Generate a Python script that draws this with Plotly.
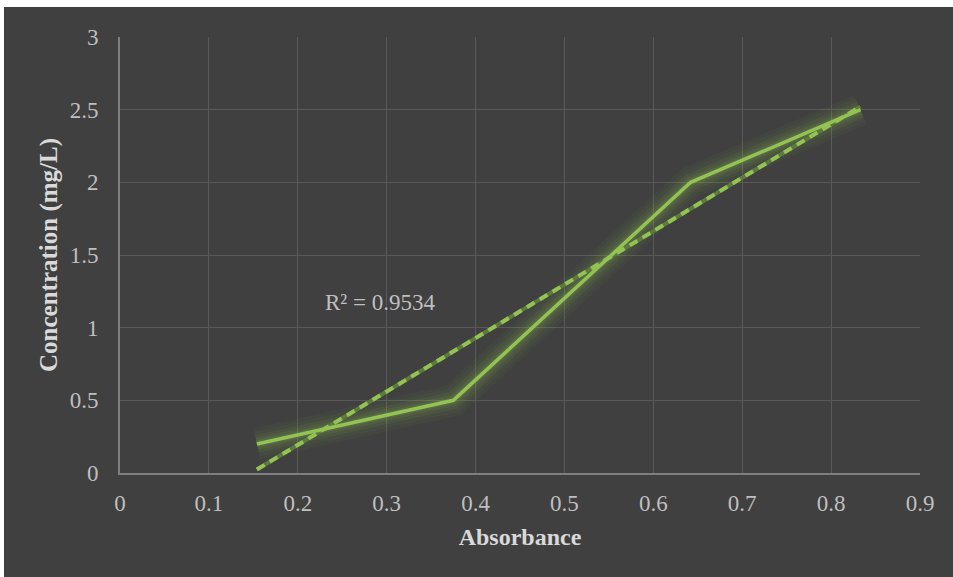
import numpy as np
import plotly.graph_objects as go

# Data
absorbance = [0.154, 0.375, 0.642, 0.833]
concentration = [0.2, 0.5, 2.0, 2.5]
r2_label = "R² = 0.9534"
x_ticks = [0, 0.1, 0.2, 0.3, 0.4, 0.5, 0.6, 0.7, 0.8, 0.9]
y_ticks = [0, 0.5, 1, 1.5, 2, 2.5, 3]

# Linear trendline (least squares) over the data range
slope, intercept = np.polyfit(absorbance, concentration, 1)
trend_x = [min(absorbance), max(absorbance)]
trend_y = [slope * v + intercept for v in trend_x]

GREEN = "#93c352"
BG = "#404040"
FONT = "Liberation Serif"

fig = go.Figure()

# glow layers
for w, a in [(32, 0.04), (25, 0.05), (18, 0.07), (12, 0.09), (7, 0.12)]:
    fig.add_trace(go.Scatter(x=absorbance, y=concentration, mode="lines",
                             line=dict(color=f"rgba(147,195,82,{a})", width=w),
                             hoverinfo="skip", showlegend=False))

# trendline: dark underlay + dashes
fig.add_trace(go.Scatter(x=trend_x, y=trend_y, mode="lines",
                         line=dict(color="#5e7a3e", width=4),
                         hoverinfo="skip", showlegend=False))
fig.add_trace(go.Scatter(x=trend_x, y=trend_y, mode="lines",
                         line=dict(color=GREEN, width=4, dash="9px,6px"),
                         showlegend=False))

# main series
fig.add_trace(go.Scatter(x=absorbance, y=concentration, mode="lines",
                         line=dict(color=GREEN, width=3.5),
                         showlegend=False))

fig.add_annotation(x=0.2925, y=1.17, text=r2_label, showarrow=False,
                   font=dict(family=FONT, size=23, color="#bfbfbf"))

L, R, T, B = 120, 33, 37, 104
W, H = 953, 577
pw, ph = W - L - R, H - T - B

# dark chart background with thin light border at top/left
fig.add_shape(type="rect", xref="paper", yref="paper", layer="below",
              x0=(4 - L) / pw, x1=(W + 10 - L) / pw,
              y0=-(B + 10) / ph, y1=(H - B - 7) / ph,
              fillcolor=BG, line=dict(width=0))

fig.update_layout(
    width=W, height=H,
    margin=dict(l=L, r=R, t=T, b=B),
    paper_bgcolor="#ffffff",
    plot_bgcolor=BG,
    font=dict(family=FONT, color="#bfbfbf", size=23),
    xaxis=dict(range=[0, 0.9], tickvals=x_ticks,
               ticktext=[f"{v:g}" for v in x_ticks],
               showgrid=True, gridcolor="#595959", gridwidth=1,
               zeroline=False, showline=True, linecolor="#7f7f7f", linewidth=2,
               ticks="", ticklabelstandoff=8,
               tickfont=dict(family=FONT, size=23, color="#bfbfbf"),
               title=dict(text="<b>Absorbance</b>", standoff=14,
                          font=dict(family=FONT, size=24, color="#d9d9d9"))),
    yaxis=dict(range=[0, 3], tickvals=y_ticks,
               ticktext=[f"{v:g}" for v in y_ticks],
               showgrid=True, gridcolor="#595959", gridwidth=1,
               zeroline=False, showline=True, linecolor="#7f7f7f", linewidth=2,
               ticks="", ticklabelstandoff=15,
               tickfont=dict(family=FONT, size=23, color="#bfbfbf"),
               title=dict(text="<b>Concentration (mg/L)</b>", standoff=5,
                          font=dict(family=FONT, size=25, color="#d9d9d9"))),
)

fig.write_html("out.html")
